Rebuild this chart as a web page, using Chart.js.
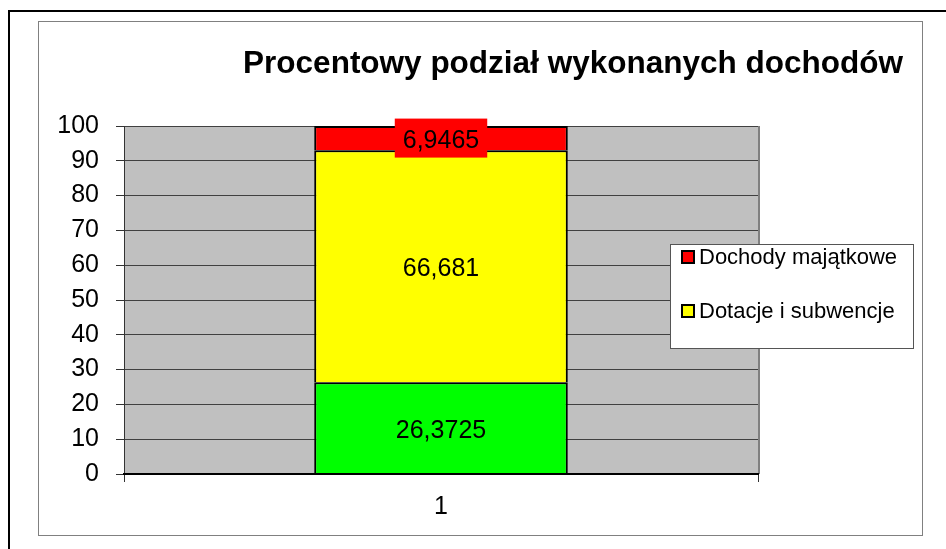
<!DOCTYPE html>
<html>
<head>
<meta charset="utf-8">
<script src="https://cdn.jsdelivr.net/npm/chart.js@4/dist/chart.umd.min.js"></script>
<style>
  html, body { margin: 0; padding: 0; background: #fff; }
  #wrap { width: 946px; height: 549px; position: relative; }
</style>
</head>
<body>
<div id="wrap"><canvas id="chart"></canvas></div>
<script>
(function () {
    "use strict";

    // data
    const categories = ["1"];
    const seriesNames = ["Dochody własne", "Dotacje i subwencje", "Dochody majątkowe"];
    const seriesColors = ["#00FF00", "#FFFF00", "#FF0000"];
    const bottomValues = [26.3725];
    const middleValues = [66.681];
    const topValues = [6.9465];
    const legendOrder = [2, 1]; // only these two show in the legend
    const titleText = "Procentowy podział wykonanych dochodów";

    const FONT = "'Liberation Sans', Arial, sans-serif";
    Chart.defaults.font.family = FONT;
    Chart.defaults.color = "#000";

    const fmt = v => String(v).replace(".", ",");

    /*----------------------------------------*/
    /*  frame, plot background, title
    /*----------------------------------------*/
    const framePlugin = {
        id: "frame",
        beforeDraw(chart) {
            const ctx = chart.ctx, a = chart.chartArea;
            ctx.save();
            ctx.fillStyle = "#fff";
            ctx.fillRect(0, 0, chart.width, chart.height);
            // outer black border (runs off right and bottom)
            ctx.strokeStyle = "#000";
            ctx.lineWidth = 2;
            ctx.strokeRect(9, 11, 960, 560);
            // inner gray border
            ctx.strokeStyle = "#808080";
            ctx.lineWidth = 1;
            ctx.strokeRect(38.5, 21.5, 884, 514);
            // plot area
            ctx.fillStyle = "#C0C0C0";
            ctx.fillRect(a.left, a.top, a.right - a.left, a.bottom - a.top);
            ctx.restore();
        },
        beforeDatasetsDraw(chart) {
            const ctx = chart.ctx, a = chart.chartArea;
            ctx.save();
            ctx.strokeStyle = "#808080";
            ctx.lineWidth = 2;
            ctx.beginPath();
            ctx.moveTo(a.right + 1, a.top);
            ctx.lineTo(a.right + 1, a.bottom);
            ctx.stroke();
            ctx.restore();
        },
        afterDraw(chart) {
            const ctx = chart.ctx;
            ctx.save();
            ctx.fillStyle = "#000";
            ctx.font = "bold 31.5px " + FONT;
            ctx.textAlign = "center";
            ctx.textBaseline = "alphabetic";
            ctx.fillText(titleText, 573, 73);
            ctx.restore();
        }
    };

    /*----------------------------------------*/
    /*  values inside the stacked segments
    /*----------------------------------------*/
    const valuePlugin = {
        id: "values",
        afterDatasetsDraw(chart) {
            const ctx = chart.ctx;
            ctx.save();
            ctx.font = "25px " + FONT;
            ctx.textAlign = "center";
            ctx.textBaseline = "alphabetic";
            chart.data.datasets.forEach((ds, i) => {
                chart.getDatasetMeta(i).data.forEach((el, j) => {
                    const txt = fmt(ds.data[j]);
                    const cy = (el.y + el.base) / 2;
                    const w = ctx.measureText(txt).width;
                    ctx.fillStyle = ds.backgroundColor;
                    ctx.fillRect(el.x - w / 2 - 8, cy - 19.5, w + 16, 39);
                    ctx.fillStyle = "#000";
                    ctx.fillText(txt, el.x, cy + 10);
                });
            });
            ctx.restore();
        }
    };

    /*----------------------------------------*/
    /*  legend box on the right
    /*----------------------------------------*/
    const legendPlugin = {
        id: "boxLegend",
        afterDraw(chart) {
            const ctx = chart.ctx;
            ctx.save();
            ctx.fillStyle = "#fff";
            ctx.fillRect(670, 244, 243, 104);
            ctx.strokeStyle = "#555";
            ctx.lineWidth = 1;
            ctx.strokeRect(670.5, 244.5, 243, 104);
            ctx.font = "22px " + FONT;
            ctx.textAlign = "left";
            ctx.textBaseline = "alphabetic";
            legendOrder.forEach((idx, k) => {
                const ds = chart.data.datasets[idx];
                const y = 251 + k * 54;
                ctx.fillStyle = ds.backgroundColor;
                ctx.fillRect(682, y, 12, 12);
                ctx.strokeStyle = "#000";
                ctx.lineWidth = 2;
                ctx.strokeRect(682, y, 12, 12);
                ctx.fillStyle = "#000";
                ctx.fillText(ds.label, 699, y + 13);
            });
            ctx.restore();
        }
    };

    const valueSets = [bottomValues, middleValues, topValues];

    new Chart(document.getElementById("chart"), {
        type: "bar",
        data: {
            labels: categories,
            datasets: valueSets.map((vals, i) => ({
                label: seriesNames[i],
                data: vals,
                backgroundColor: seriesColors[i],
                borderColor: "#000",
                borderWidth: 2,
                borderSkipped: "start",
                barPercentage: 0.4,
                categoryPercentage: 1
            }))
        },
        options: {
            responsive: true,
            maintainAspectRatio: false,
            animation: false,
            layout: { padding: { left: 0, top: 126, right: 188, bottom: 0 } },
            plugins: {
                legend: { display: false },
                title: { display: false },
                tooltip: { enabled: false }
            },
            scales: {
                x: {
                    stacked: true,
                    offset: true,
                    afterFit(s) { s.height = 75; },
                    grid: {
                        offset: true,
                        drawOnChartArea: false,
                        drawTicks: true,
                        tickLength: 8,
                        tickColor: "#333"
                    },
                    border: { color: "#000", width: 2, z: 1 },
                    ticks: { font: { size: 25 }, color: "#000", padding: 10, maxRotation: 0 }
                },
                y: {
                    stacked: true,
                    min: 0,
                    max: 100,
                    afterFit(s) { s.width = 124; },
                    grid: {
                        color: "#404040",
                        lineWidth: 1,
                        tickLength: 8,
                        tickColor: "#333"
                    },
                    border: { color: "#333", width: 1 },
                    ticks: { stepSize: 10, font: { size: 25 }, color: "#000", padding: 17 }
                }
            }
        },
        plugins: [framePlugin, valuePlugin, legendPlugin]
    });
})();
</script>
</body>
</html>
